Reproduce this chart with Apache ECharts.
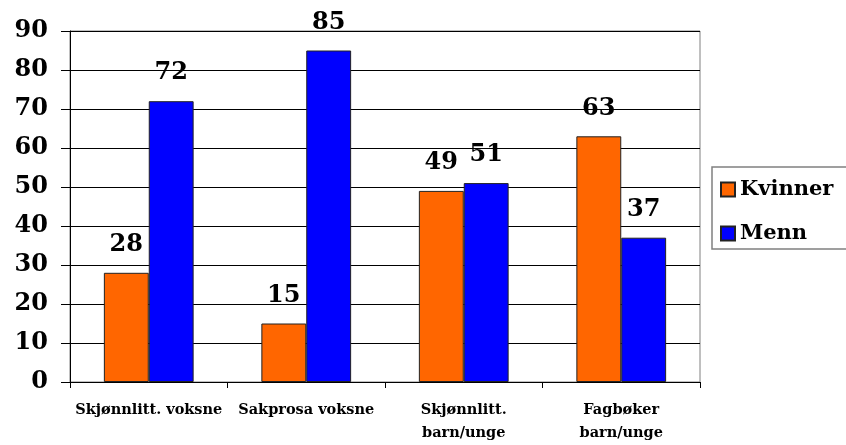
<!DOCTYPE html>
<html><head><meta charset="utf-8">
<script src="https://cdn.jsdelivr.net/npm/echarts@6/dist/echarts.min.js"></script>
<style>html,body{margin:0;padding:0;background:#fff}#c{width:846px;height:445px}</style>
</head><body><div id="c"></div>
<script>
const categories = ['Skjønnlitt. voksne', 'Sakprosa voksne', 'Skjønnlitt.\nbarn/unge', 'Fagbøker\nbarn/unge'];
const kvinner = [28, 15, 49, 63];
const menn = [72, 85, 51, 37];
const seriesNames = ['Kvinner', 'Menn'];
const yMin = 0, yMax = 90, yStep = 10;

const FONT = '"DejaVu Serif", serif';
const chart = echarts.init(document.getElementById('c'), null, {renderer: 'canvas'});
const labelStyle = {show: true, position: 'top', distance: 16, fontFamily: FONT, fontWeight: 'bold', fontSize: 24, color: '#000'};
chart.setOption({
  animation: false,
  backgroundColor: '#fff',
  grid: {left: 70, right: 146, top: 31, bottom: 62, show: true, borderColor: '#808080', borderWidth: 1, containLabel: false},
  legend: {
    orient: 'vertical', left: 712, top: 167,
    padding: [12, 14, 5, 8], itemGap: 23, itemWidth: 14, itemHeight: 14, itemTextGap: 9,
    borderColor: '#808080', borderWidth: 1.5,
    icon: 'rect',
    textStyle: {fontFamily: FONT, fontWeight: 'bold', fontSize: 21, color: '#000'},
    data: seriesNames
  },
  xAxis: {
    type: 'category', data: categories,
    axisLine: {lineStyle: {color: '#000', width: 1}},
    axisTick: {show: true, length: 6, lineStyle: {color: '#000'}},
    axisLabel: {fontFamily: FONT, fontWeight: 'bold', fontSize: 14.5, color: '#000', margin: 17, lineHeight: 23, interval: 0}
  },
  yAxis: {
    type: 'value', min: yMin, max: yMax, interval: yStep,
    axisLine: {show: true, lineStyle: {color: '#000', width: 1}},
    axisTick: {show: true, length: 9, lineStyle: {color: '#000'}},
    splitLine: {show: true, lineStyle: {color: '#000', width: 1}},
    axisLabel: {fontFamily: FONT, fontWeight: 'bold', fontSize: 24, color: '#000', margin: 22}
  },
  series: [
    {name: seriesNames[0], type: 'bar', data: kvinner, barGap: '0%', barCategoryGap: '43%',
     itemStyle: {color: '#FF6600', borderColor: '#222', borderWidth: 1}, label: labelStyle},
    {name: seriesNames[1], type: 'bar', data: menn, barGap: '0%', barCategoryGap: '43%',
     itemStyle: {color: '#0000FF', borderColor: '#222', borderWidth: 1}, label: labelStyle}
  ]
});
</script></body></html>
